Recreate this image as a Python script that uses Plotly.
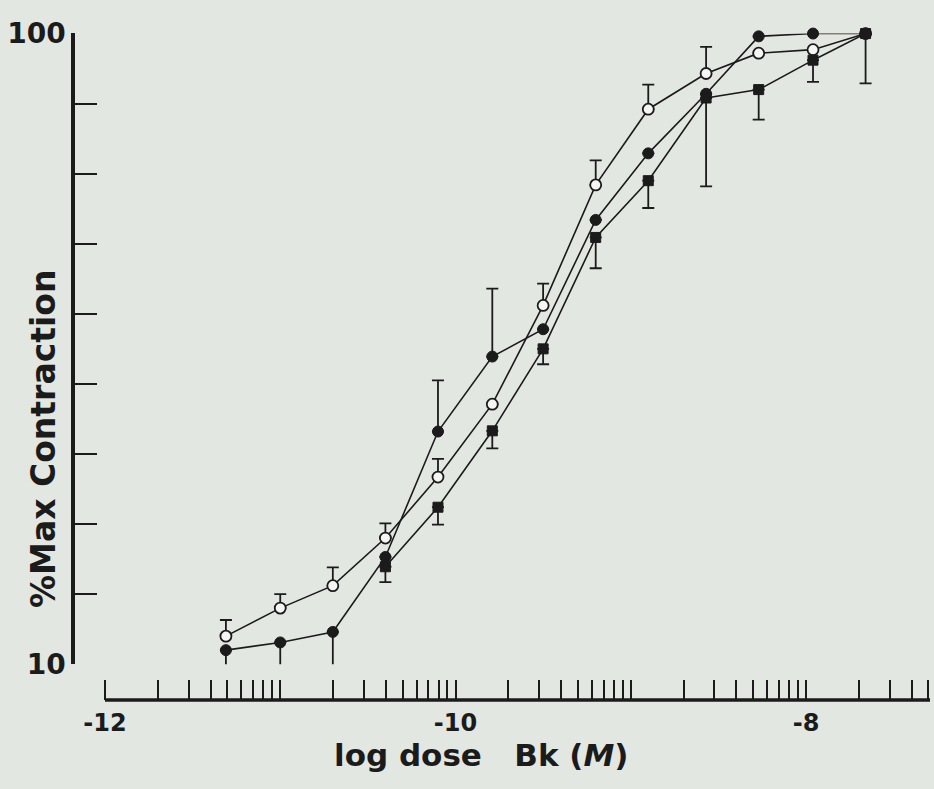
import numpy as np
import plotly.graph_objects as go

# log dose of bradykinin (M)
log_dose = [-11.31, -11.00, -10.70, -10.40, -10.10, -9.79, -9.50,
            -9.20, -8.90, -8.57, -8.27, -7.96, -7.66]

# open circles: response (% of max) and upper SEM
open_resp = [14.0, 18.0, 21.2, 28.0, 36.7, 47.1, 61.2, 78.4, 89.2, 94.3, 97.2, 97.7, 100.0]
open_sem_up = [2.3, 2.0, 2.6, 2.1, 2.6, 0, 3.1, 3.5, 3.5, 3.8, 0, 0, 0]

# filled circles: response and SEM (upper / lower)
filled_resp = [12.0, 13.1, 14.6, 25.3, 43.2, 53.9, 57.8, 73.4, 82.9, 91.4, 99.6, 100.0, 100.0]
filled_sem_up = [0, 0, 0, 0, 7.3, 9.7, 0, 0, 0, 0, 4.3, 3.9, 0]
filled_sem_down = [2.6, 4.9, 5.4, 0, 0, 0, 0, 0, 0, 0, 0, 0, 0]

# filled squares: response and lower SEM
square_resp = [None, None, None, 23.9, 32.4, 43.3, 55.0, 70.9, 79.0, 90.8, 92.0, 96.2, 100.0]
square_sem_down = [0, 0, 0, 2.2, 2.5, 2.5, 2.2, 4.4, 3.9, 12.6, 4.3, 3.1, 7.1]

# axis labels
y_tick_values = [10, 20, 30, 40, 50, 60, 70, 80, 90, 100]
y_tick_labels = ["10", "", "", "", "", "", "", "", "", "100"]
x_major_labels = {-12: "-12", -10: "-10", -8: "-8"}

INK = "#1b1b1b"
PAPER = "#e3e7e1"
FONT = "DejaVu Sans"
W, H = 934, 789

# x scale: 175.25 px per decade, axis line from -12 to the right edge
PX_PER_DEC = 175.25
x_pad = 0.03
x_start = -12.0
x_lo, x_hi = x_start - x_pad, x_start + 825 / PX_PER_DEC
x_left_px = 105 - x_pad * PX_PER_DEC
x_axis_y = (H - 700) / H

# logarithmic minor ticks (1..9 within each decade of dose)
x_tick_vals, x_tick_text = [], []
for dec in range(-12, -7):
    for k in range(1, 10):
        v = dec + float(np.log10(k))
        if x_lo <= v <= x_hi:
            x_tick_vals.append(v)
            x_tick_text.append(x_major_labels.get(dec, "") if k == 1 else "")

fig = go.Figure()

common = dict(mode="lines+markers", cliponaxis=False,
              line=dict(color=INK, width=1.6), showlegend=False)

fig.add_trace(go.Scatter(
    x=log_dose, y=open_resp,
    marker=dict(symbol="circle", size=11, color="#f5f6f3",
                line=dict(color=INK, width=1.8)),
    error_y=dict(type="data", symmetric=False, array=open_sem_up,
                 arrayminus=[0] * len(open_sem_up),
                 color=INK, thickness=1.8, width=6),
    **common))

fig.add_trace(go.Scatter(
    x=log_dose, y=filled_resp,
    marker=dict(symbol="circle", size=11, color=INK,
                line=dict(color=INK, width=1)),
    error_y=dict(type="data", symmetric=False, array=filled_sem_up,
                 arrayminus=filled_sem_down,
                 color=INK, thickness=1.8, width=6),
    **common))

fig.add_trace(go.Scatter(
    x=log_dose, y=square_resp,
    marker=dict(symbol="square", size=10, color=INK,
                line=dict(color=INK, width=1)),
    error_y=dict(type="data", symmetric=False,
                 array=[0] * len(square_sem_down),
                 arrayminus=square_sem_down,
                 color=INK, thickness=1.8, width=6),
    **common))

fig.update_layout(
    width=W, height=H,
    margin=dict(l=0, r=0, t=0, b=0),
    paper_bgcolor=PAPER, plot_bgcolor=PAPER,
    showlegend=False,
    xaxis=dict(
        domain=[x_left_px / W, 930 / W], range=[x_lo, x_hi],
        anchor="free", position=x_axis_y,
        showline=False,
        ticks="inside", ticklen=20, tickwidth=1.6, tickcolor=INK,
        tickmode="array", tickvals=x_tick_vals, ticktext=x_tick_text,
        tickfont=dict(family=FONT, size=24, color=INK, weight="bold"),
        ticklabelstandoff=6,
        showgrid=False, zeroline=False, automargin=False,
    ),
    yaxis=dict(
        domain=[(H - 664.3) / H, (H - 33.4) / H], range=[9.98, 100.02],
        anchor="free", position=73 / W,
        showline=True, linecolor=INK, linewidth=3.5,
        ticks="inside", ticklen=22, tickwidth=2, tickcolor=INK,
        tickmode="array", tickvals=y_tick_values, ticktext=y_tick_labels,
        tickfont=dict(family=FONT, size=28, color=INK, weight="bold"),
        showgrid=False, zeroline=False, automargin=False,
    ),
    shapes=[
        # x-axis baseline, starting at the -12 tick
        dict(type="line", xref="x", yref="paper",
             x0=x_start, x1=x_hi, y0=x_axis_y, y1=x_axis_y,
             line=dict(color=INK, width=3.5), layer="above"),
    ],
    annotations=[
        dict(text="log dose\u00a0\u00a0\u00a0Bk\u00a0(<i>M</i>)",
             xref="paper", yref="paper", x=481 / W, y=(H - 755) / H,
             xanchor="center", yanchor="middle", showarrow=False,
             font=dict(family=FONT, size=31, color=INK, weight="bold")),
        dict(text="%Max Contraction", textangle=-90,
             xref="paper", yref="paper", x=43 / W, y=(H - 439) / H,
             xanchor="center", yanchor="middle", showarrow=False,
             font=dict(family=FONT, size=33, color=INK, weight="bold")),
    ],
)

fig.write_html("out.html")
